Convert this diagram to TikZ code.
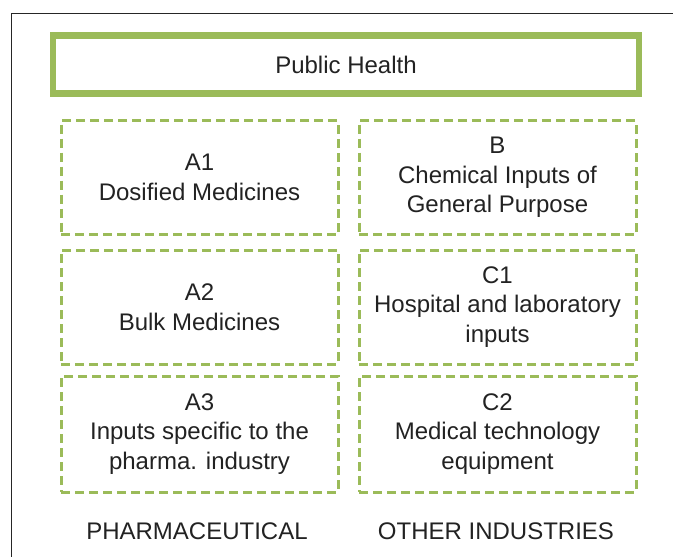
\documentclass[tikz,border=0pt]{standalone}
\usepackage{xcolor}
\usepackage{fontspec}
\setmainfont{Liberation Sans}
\usepackage{tikz}
\usetikzlibrary{positioning}
\definecolor{hgreen}{HTML}{9BBB59}
\definecolor{txtgray}{HTML}{222222}
\tikzset{
  topbox/.style={draw=hgreen, line width=6.5pt, minimum width=586pt, minimum height=58pt, text=txtgray},
  catbox/.style={draw=hgreen, line width=3pt, dash pattern=on 9pt off 5pt, minimum width=277pt, minimum height=114pt, align=center, text=txtgray},
  sector/.style={text=txtgray}
}

\begin{document}
\begin{tikzpicture}[x=1pt,y=-1pt,font=\fontsize{24}{29.5}\selectfont]
\useasboundingbox (0,0) rectangle (673,557);
       \draw[line width=1pt,black!85] (11,557) -- (11,13.5) -- (673,13.5);
\node[topbox] (health) at (346,64.5) {Public Health};
\node[catbox] (a1) at (199.5,177.5) {A1\\Dosified Medicines};
\node[catbox] (a2) at (199.5,307) {A2\\Bulk Medicines};
\node[catbox,minimum height=116pt] (a3) at (199.5,434) {A3\\Inputs specific to the\\pharma. industry};
\node[catbox] (b) at (497.5,177.5) {B\\Chemical Inputs of\\General Purpose};
\node[catbox] (c1) at (497.5,307) {C1\\Hospital and laboratory\\inputs};
\node[catbox,minimum height=116pt] (c2) at (497.5,434) {C2\\Medical technology\\equipment};
\node[sector] (pharma) at (197,531) {PHARMACEUTICAL};
\node[sector] (other) at (496,531) {OTHER INDUSTRIES};
\end{tikzpicture}
\end{document}
